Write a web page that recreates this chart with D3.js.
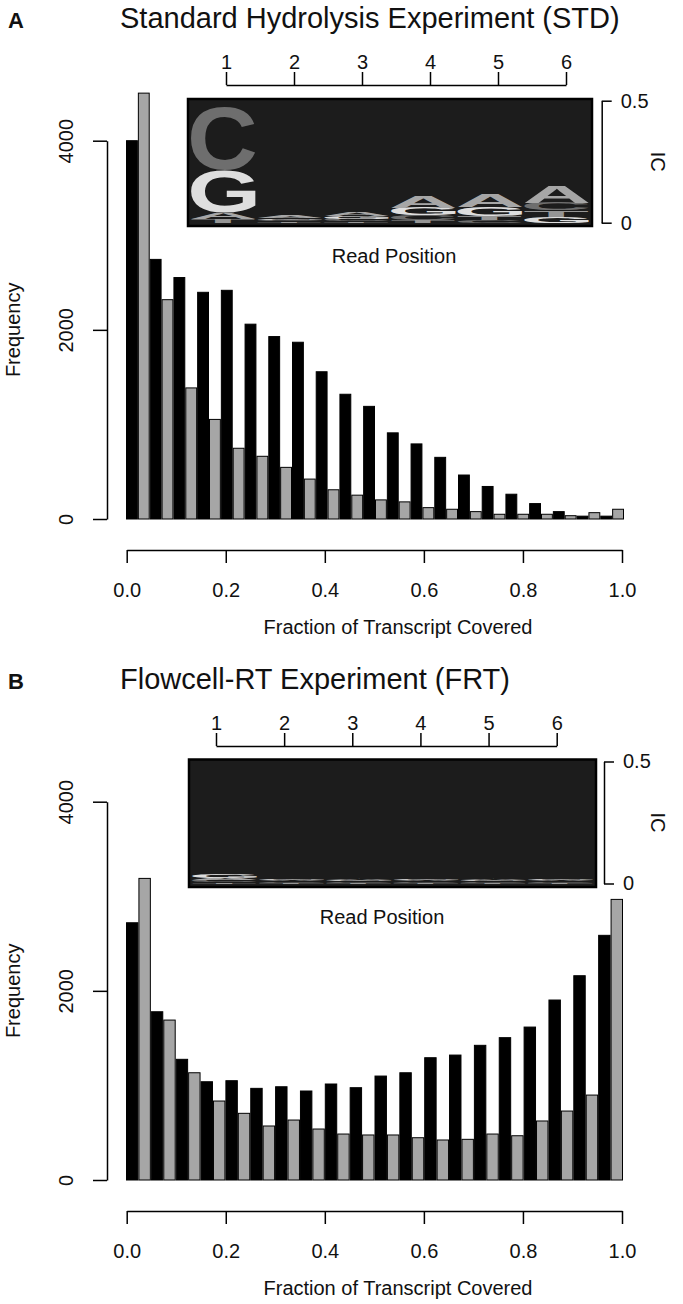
<!DOCTYPE html>
<html><head><meta charset="utf-8">
<script src="https://cdn.jsdelivr.net/npm/d3@7"></script>
<style>
body{margin:0;background:#fff}
svg{display:block}
text{font-family:'Liberation Sans',Arial,Helvetica,sans-serif}
</style>
</head><body>
<svg id="c" width="683" height="1304"></svg>
<script>
// ---------------- DATA ----------------
const binsSTD = ["1","2","3","4","5","6","7","8","9","10","11","12","13","14","15","16","17","18","19","20","21"];
const stdBlack = [4000, 2745, 2553, 2397, 2418, 2060, 1929, 1869, 1557, 1319, 1191, 911, 794, 652, 465, 344, 262, 163, 78, 30, 30];
const stdGray  = [4503, 2319, 1386, 1053, 748, 663, 546, 422, 309, 252, 202, 181, 120, 103, 78, 50, 50, 50, 35, 67, 103];

const binsFRT = ["1","2","3","4","5","6","7","8","9","10","11","12","13","14","15","16","17","18","19","20"];
const frtBlack = [2720, 1779, 1276, 1039, 1050, 969, 986, 941, 1015, 976, 1099, 1134, 1293, 1321, 1424, 1505, 1617, 1903, 2160, 2587];
const frtGray  = [3189, 1691, 1134, 835, 705, 571, 634, 539, 486, 476, 476, 447, 423, 430, 486, 468, 624, 729, 898, 2967];

const yTicks = [0, 2000, 4000];
const xTicks = [0, 0.2, 0.4, 0.6, 0.8, 1.0];
const readPositions = [1, 2, 3, 4, 5, 6];
const icTicks = [0, 0.5];
const bases = ["T", "C", "G", "A"];

// sequence logo information content per base, per read position
const stdLogoA = [0.027, 0.008, 0.014, 0.045, 0.055, 0.071];
const stdLogoC = [0.260, 0.006, 0.010, 0.020, 0.012, 0.029];
const stdLogoG = [0.175, 0.007, 0.010, 0.032, 0.036, 0.025];
const stdLogoT = [0.014, 0.005, 0.006, 0.010, 0.016, 0.027];

const frtLogoA = [0.009, 0.006, 0.006, 0.006, 0.006, 0.006];
const frtLogoC = [0.008, 0.005, 0.005, 0.005, 0.005, 0.005];
const frtLogoG = [0.014, 0.007, 0.006, 0.007, 0.006, 0.007];
const frtLogoT = [0.006, 0.004, 0.004, 0.004, 0.004, 0.004];

// ---------------- DRAW ----------------
const svg = d3.select("#c");
const baseColor = {A: "#a6a6a6", C: "#6e6e6e", G: "#dedede", T: "#959595"};

const cv = document.createElement("canvas").getContext("2d");
cv.font = "bold 100px 'Liberation Sans'";
function ink(ch) {
  const m = cv.measureText(ch);
  return {l: -m.actualBoundingBoxLeft, r: m.actualBoundingBoxRight,
          t: -m.actualBoundingBoxAscent, b: m.actualBoundingBoxDescent};
}

function styleAxis(g, size) {
  g.selectAll("path.domain").attr("stroke", "#000").attr("stroke-width", 1.5);
  g.selectAll(".tick line").attr("stroke", "#000").attr("stroke-width", 1.5);
  g.selectAll("text").attr("font-size", size).attr("fill", "#111")
    .attr("font-family", "'Liberation Sans', Arial, sans-serif");
}

function panel(o) {
  const g = svg.append("g");
  const x = d3.scaleLinear().domain([0, 1]).range([126.7, 622]);
  const y = d3.scaleLinear().domain([0, 4000]).range([o.base, o.base - 378.3]);
  const band = d3.scaleBand().domain(o.bins).range([126, o.barEnd]).paddingInner(0);
  const bw = band.bandwidth() / 2;

  // bars
  g.append("g").selectAll("rect").data(o.black).join("rect")
    .attr("x", (d, i) => band(o.bins[i]) + 0.5)
    .attr("y", d => y(d))
    .attr("width", bw - 1)
    .attr("height", d => y(0) - y(d))
    .attr("fill", "#000").attr("stroke", "#000").attr("stroke-width", 1);
  g.append("g").selectAll("rect").data(o.gray).join("rect")
    .attr("x", (d, i) => band(o.bins[i]) + bw + 0.5)
    .attr("y", d => y(d))
    .attr("width", bw - 1)
    .attr("height", d => y(0) - y(d))
    .attr("fill", "#a6a6a6").attr("stroke", "#000").attr("stroke-width", 1);

  // y axis
  const ya = g.append("g").attr("transform", "translate(107,0)")
    .call(d3.axisLeft(y).tickValues(yTicks).tickSize(14).tickSizeOuter(0).tickFormat(d3.format("d")));
  styleAxis(ya, 20);
  ya.selectAll(".tick text").attr("x", null).attr("dy", null)
    .attr("transform", "translate(-34,0) rotate(-90)")
    .attr("text-anchor", "middle");
  g.append("text").attr("transform", `translate(20,${(y(0) + y(4000)) / 2}) rotate(-90)`)
    .attr("text-anchor", "middle").attr("font-size", 20).attr("fill", "#111").text("Frequency");

  // x axis
  const xa = g.append("g").attr("transform", `translate(0,${o.base + 31})`)
    .call(d3.axisBottom(x).tickValues(xTicks).tickSize(13).tickPadding(20).tickSizeOuter(0).tickFormat(d3.format(".1f")));
  styleAxis(xa, 20);
  g.append("text").attr("x", 398).attr("y", o.base + 115).attr("text-anchor", "middle")
    .attr("font-size", 20).attr("fill", "#111").text("Fraction of Transcript Covered");

  // panel letter + title
  g.append("text").attr("x", 8).attr("y", o.titleY).attr("font-size", 22).attr("font-weight", "bold")
    .attr("fill", "#111").text(o.letter);
  g.append("text").attr("x", 120).attr("y", o.titleY).attr("font-size", 29)
    .attr("font-family", "'Open Sans', sans-serif").attr("fill", "#111").text(o.title);

  // ---- sequence logo inset ----
  const L = o.logo;
  const lx = d3.scaleLinear().domain([1, 6]).range(L.tickRange);
  const la = g.append("g").attr("transform", `translate(0,${L.axisY})`)
    .call(d3.axisTop(lx).tickValues(readPositions).tickSize(13).tickPadding(3).tickSizeOuter(0)
      .tickFormat(d3.format("d")));
  styleAxis(la, 20);

  g.append("rect").attr("x", L.x0).attr("y", L.y0).attr("width", L.x1 - L.x0).attr("height", L.y1 - L.y0)
    .attr("fill", "#1c1c1c").attr("stroke", "#000").attr("stroke-width", 2.5);

  const ic = d3.scaleLinear().domain([0, 0.5]).range([L.icBottom, L.icTop]);
  const col = d3.scaleBand().domain(readPositions).range([L.x0 + 2, L.x1 - 2]);
  const letters = g.append("g");
  readPositions.forEach((p, i) => {
    const stack = bases.map(b => ({b, v: L.vals[b][i]})).sort((a, c) => a.v - c.v);
    let acc = 0;
    stack.forEach(s => {
      const yb = ic(acc), yt = ic(acc + s.v);
      acc += s.v;
      const h = yb - yt;
      if (h <= 0.2) return;
      const m = ink(s.b);
      const w = col.bandwidth() - 2;
      const sx = w / (m.r - m.l), sy = h / (m.b - m.t);
      letters.append("text")
        .attr("transform", `translate(${col(p) + 1},${yt}) scale(${sx},${sy}) translate(${-m.l},${-m.t})`)
        .attr("font-size", 100).attr("font-weight", "bold")
        .attr("fill", baseColor[s.b]).text(s.b);
    });
  });

  const ica = g.append("g").attr("transform", `translate(${L.icX},0)`)
    .call(d3.axisRight(ic).tickValues(icTicks).tickSize(10).tickPadding(9).tickSizeOuter(0)
      .tickFormat(d => d === 0 ? "0" : "0.5"));
  styleAxis(ica, 20);
  g.append("text").attr("transform", `translate(651,${(L.icBottom + L.icTop) / 2}) rotate(90)`)
    .attr("text-anchor", "middle").attr("font-size", 20).attr("fill", "#111").text("IC");
  g.append("text").attr("x", L.rpX).attr("y", L.rpY).attr("text-anchor", "middle")
    .attr("font-size", 20).attr("fill", "#111").text("Read Position");
}

panel({
  bins: binsSTD, black: stdBlack, gray: stdGray, base: 519, barEnd: 624,
  letter: "A", title: "Standard Hydrolysis Experiment (STD)", titleY: 28,
  logo: {tickRange: [226, 566], axisY: 85, x0: 188, x1: 592, y0: 99, y1: 226,
         icTop: 100.7, icBottom: 222.7, icX: 601.7, rpX: 394, rpY: 263,
         vals: {A: stdLogoA, C: stdLogoC, G: stdLogoG, T: stdLogoT}}
});
panel({
  bins: binsFRT, black: frtBlack, gray: frtGray, base: 1180, barEnd: 623,
  letter: "B", title: "Flowcell-RT Experiment (FRT)", titleY: 689,
  logo: {tickRange: [216, 556.7], axisY: 746, x0: 189, x1: 596, y0: 759.5, y1: 887,
         icTop: 761.5, icBottom: 883.5, icX: 604, rpX: 382, rpY: 924,
         vals: {A: frtLogoA, C: frtLogoC, G: frtLogoG, T: frtLogoT}}
});
</script>
</body></html>
